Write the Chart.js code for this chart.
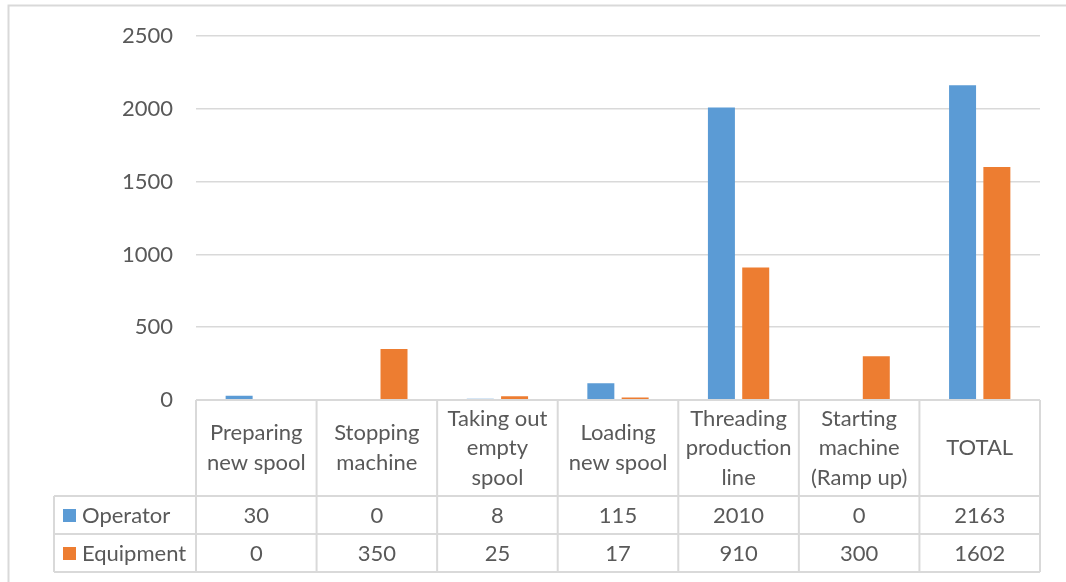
<!DOCTYPE html>
<html>
<head>
<meta charset="utf-8">
<script src="https://cdn.jsdelivr.net/npm/chart.js@4/dist/chart.umd.min.js"></script>
<style>
  html, body { margin: 0; padding: 0; background: #ffffff; }
  #wrap { width: 1066px; height: 582px; position: relative; }
</style>
</head>
<body>
<div id="wrap"><canvas id="chart" width="1066" height="582"></canvas></div>
<script>
// Changeover steps (multi-line header labels)
const categories = [
  ["Preparing", "new spool"],
  ["Stopping", "machine"],
  ["Taking out", "empty", "spool"],
  ["Loading", "new spool"],
  ["Threading", "production", "line"],
  ["Starting", "machine", "(Ramp up)"],
  ["TOTAL"]
];
const seriesNames = ["Operator", "Equipment"];
const operatorValues = [30, 0, 8, 115, 2010, 0, 2163];
const equipmentValues = [0, 350, 25, 17, 910, 300, 1602];
const yTickValues = [0, 500, 1000, 1500, 2000, 2500];

const seriesColors = ["#5B9BD5", "#ED7D31"];
const textColor = "#595959";
const lineColor = "#D9D9D9";
const fontFamily = "Lato, 'Open Sans', sans-serif";
const fontSize = 22;

// Data table under the plot: header row with categories, one row per series
const dataTablePlugin = {
  id: "dataTable",
  afterDraw(chart) {
    const ctx = chart.ctx;
    const area = chart.chartArea;
    const xs = chart.scales.x;
    const n = chart.data.labels.length;
    const colW = (area.right - area.left) / n;
    const headerTop = area.bottom;
    const headerBottom = headerTop + 96;
    const rowH = 38;
    const legendLeft = 54;
    const tableBottom = headerBottom + rowH * chart.data.datasets.length;

    ctx.save();
    ctx.strokeStyle = lineColor;
    ctx.lineWidth = 2;
    ctx.beginPath();
    ctx.moveTo(area.left, headerTop); ctx.lineTo(area.right, headerTop);
    for (let r = 0; r <= chart.data.datasets.length; r++) {
      const y = headerBottom + r * rowH;
      ctx.moveTo(legendLeft, y); ctx.lineTo(area.right, y);
    }
    ctx.moveTo(legendLeft, headerBottom); ctx.lineTo(legendLeft, tableBottom);
    for (let i = 0; i <= n; i++) {
      const x = area.left + i * colW;
      ctx.moveTo(x, headerTop); ctx.lineTo(x, tableBottom);
    }
    ctx.stroke();

    ctx.fillStyle = textColor;
    ctx.font = fontSize + "px " + fontFamily;
    ctx.textAlign = "center";
    ctx.textBaseline = "middle";
    const lh = 29.5;
    const headerMid = (headerTop + headerBottom) / 2;
    chart.data.labels.forEach((lab, i) => {
      const lines = Array.isArray(lab) ? lab : [lab];
      const cx = xs.getPixelForValue(i);
      lines.forEach((t, k) => {
        ctx.fillText(t, cx, headerMid - (lines.length - 1) * lh / 2 + k * lh);
      });
    });

    chart.data.datasets.forEach((ds, r) => {
      const cy = headerBottom + r * rowH + rowH / 2;
      ds.data.forEach((v, i) => {
        ctx.fillStyle = textColor;
        ctx.textAlign = "center";
        ctx.fillText(String(v), xs.getPixelForValue(i), cy + 1);
      });
      ctx.fillStyle = ds.backgroundColor;
      ctx.fillRect(legendLeft + 9, cy - 6, 13, 13);
      ctx.fillStyle = textColor;
      ctx.textAlign = "left";
      ctx.fillText(ds.label, legendLeft + 28, cy + 1);
    });

    // outer chart border
    ctx.strokeStyle = lineColor;
    ctx.lineWidth = 2;
    ctx.beginPath();
    ctx.moveTo(8.5, chart.height); ctx.lineTo(8.5, 5.5); ctx.lineTo(chart.width, 5.5);
    ctx.stroke();
    ctx.restore();
  }
};

Chart.defaults.font.family = fontFamily;
Chart.defaults.font.size = fontSize;
Chart.defaults.color = textColor;

new Chart(document.getElementById("chart"), {
  type: "bar",
  data: {
    labels: categories,
    datasets: [
      { label: seriesNames[0], data: operatorValues, backgroundColor: seriesColors[0] },
      { label: seriesNames[1], data: equipmentValues, backgroundColor: seriesColors[1] }
    ]
  },
  options: {
    responsive: false,
    animation: false,
    layout: { padding: { left: 0, top: 35, right: 26, bottom: 0 } },
    datasets: { bar: { categoryPercentage: 0.569, barPercentage: 0.787 } },
    plugins: { legend: { display: false }, tooltip: { enabled: false } },
    scales: {
      x: {
        grid: { display: false, drawTicks: false },
        border: { display: false },
        ticks: { display: false },
        afterFit(scale) { scale.height = 182; }
      },
      y: {
        min: 0,
        max: 2500,
        afterBuildTicks(scale) { scale.ticks = yTickValues.map(v => ({ value: v })); },
        grid: { color: lineColor, lineWidth: 1.5, drawTicks: false },
        border: { display: false },
        ticks: { padding: 23, color: textColor, font: { size: fontSize }, callback: v => String(v) },
        afterFit(scale) { scale.width = 196; }
      }
    }
  },
  plugins: [dataTablePlugin]
});
</script>
</body>
</html>
